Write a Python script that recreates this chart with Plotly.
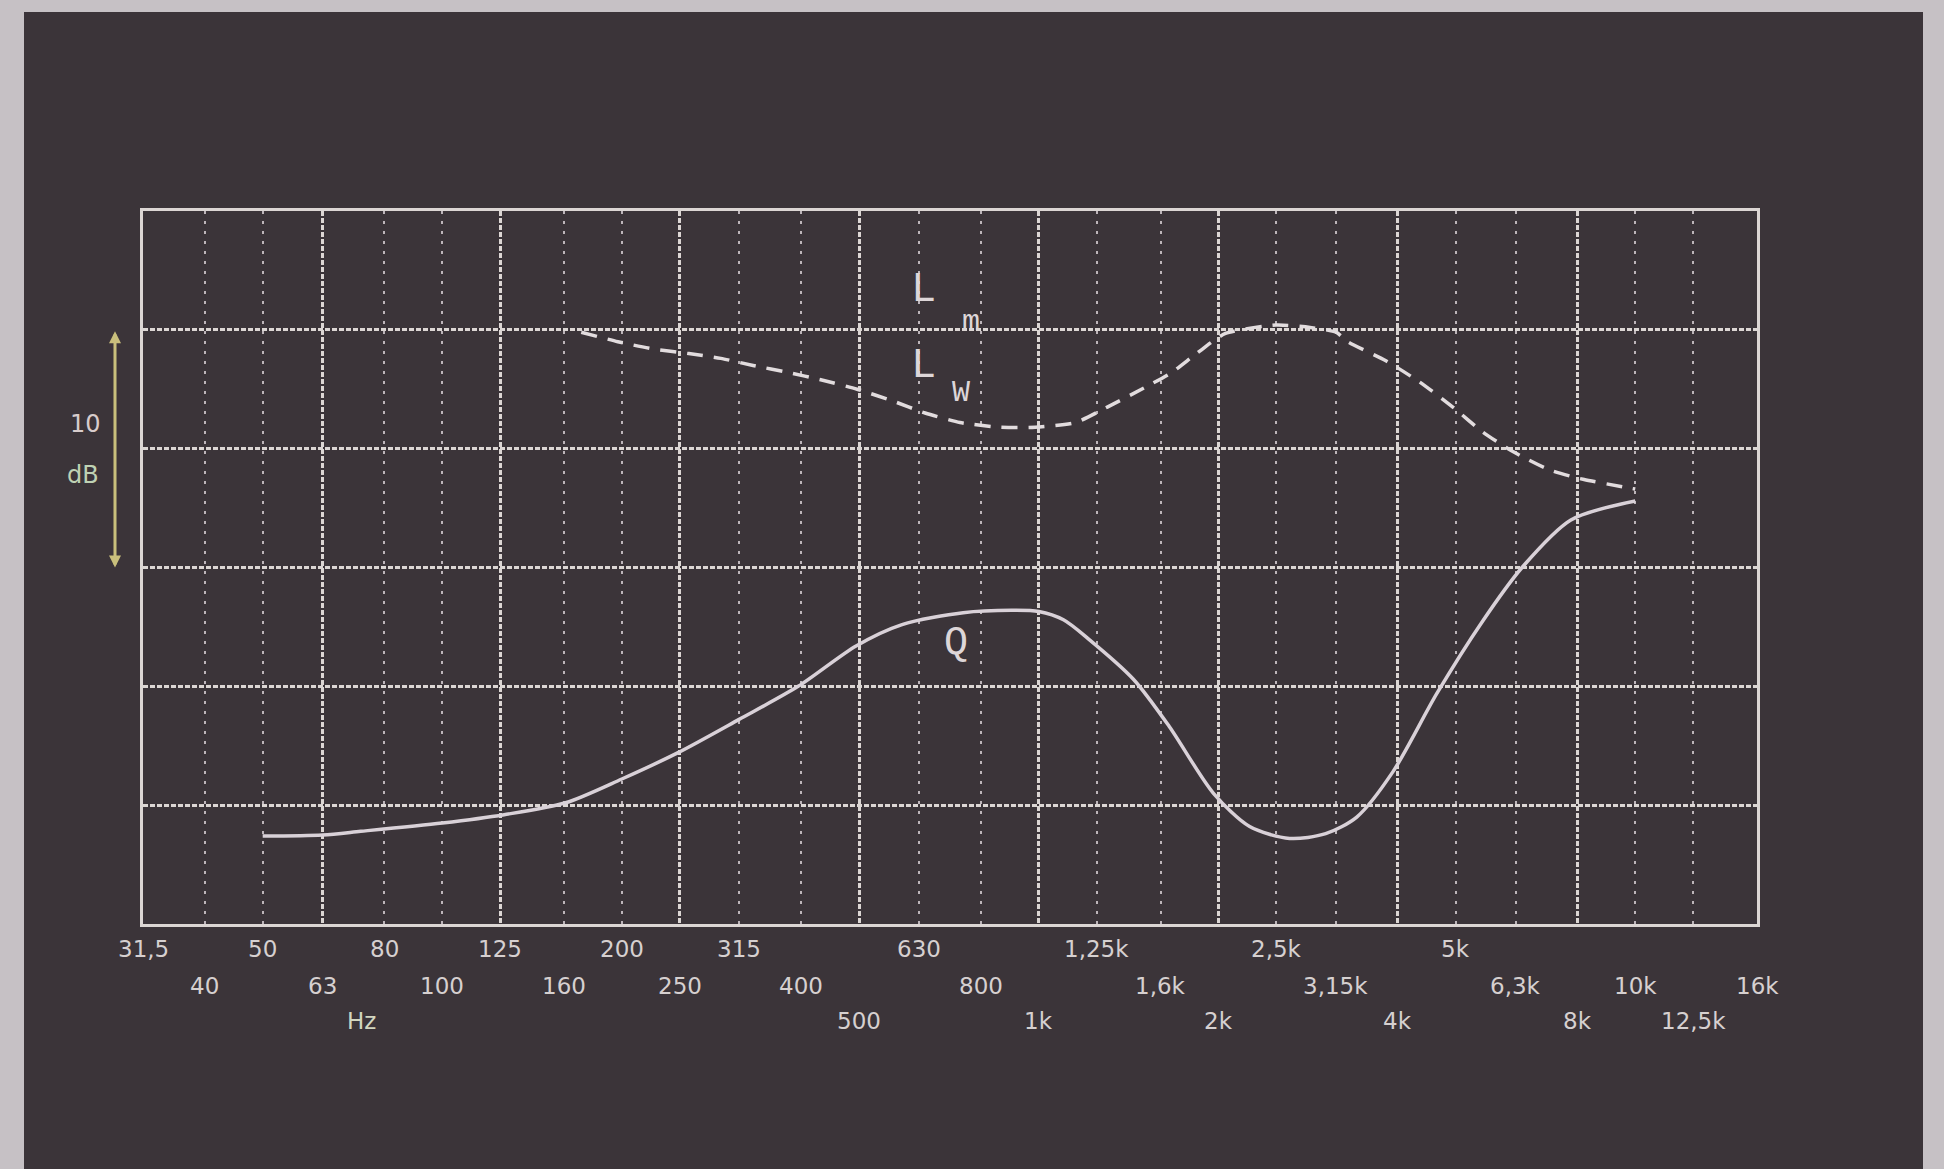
import math
import plotly.graph_objects as go

# ---- data ----
# Q curve (solid)
Q_FREQ = [50, 63, 73, 100, 127, 161, 200, 248, 314, 395, 494, 590, 747, 900, 1000,
          1100, 1211, 1441, 1656, 1963, 2257, 2634, 3027, 3413, 3923, 4650, 5533, 6460, 7800, 10000]
Q_DB = [3.7, 3.75, 3.9, 4.25, 4.6, 5.1, 6.1, 7.2, 8.6, 10.0, 11.7, 12.6, 13.1, 13.2, 13.15,
        12.8, 12.0, 10.3, 8.3, 5.5, 4.1, 3.6, 3.8, 4.5, 6.4, 9.7, 12.7, 15.0, 17.0, 17.8]

# L curve (dashed)
L_FREQ = [171, 197, 225, 259, 293, 332, 381, 431, 496, 570, 645, 738, 862, 986, 1152,
          1303, 1487, 1669, 1838, 2056, 2500, 2850, 3150, 3297, 3819, 4353, 4945, 5552,
          6213, 7195, 8209, 9507, 10000]
L_DB = [24.9, 24.5, 24.2, 24.0, 23.8, 23.5, 23.2, 22.9, 22.5, 22.0, 21.5, 21.1, 20.9, 20.9, 21.1,
        21.75, 22.5, 23.2, 24.0, 24.85, 25.2, 25.1, 24.9, 24.5, 23.7, 22.8, 21.75, 20.7,
        19.9, 19.1, 18.7, 18.4, 18.3]

# frequency axis
TICK_FREQS = [31.5, 40, 50, 63, 80, 100, 125, 160, 200, 250, 315, 400, 500, 630, 800,
              1000, 1250, 1600, 2000, 2500, 3150, 4000, 5000, 6300, 8000, 10000, 12500, 16000]
TICK_LABELS = ["31,5", "40", "50", "63", "80", "100", "125", "160", "200", "250", "315", "400",
               "500", "630", "800", "1k", "1,25k", "1,6k", "2k", "2,5k", "3,15k", "4k", "5k",
               "6,3k", "8k", "10k", "12,5k", "16k"]
TICK_ROWS = [0, 1, 0, 1, 0, 1, 0, 1, 0, 1, 0, 1, 2, 0, 1, 2, 0, 1, 2, 0, 1, 2, 0, 1, 2, 1, 2, 1]
OCTAVE_FREQS = [31.5, 63, 125, 250, 500, 1000, 2000, 4000, 8000, 16000]
DB_GRID = [0, 5, 10, 15, 20, 25, 30]

# ---- style ----
BG = "#3b3439"
BORDER = "#c6c1c5"
GRID = "#dcd6d4"
MINOR = "#bdb5ba"
TXT = "#d6d0d0"
W, H = 1944, 1169
L_M, R_M, T_M, B_M = 143, 187, 211, 245
PW, PH = W - L_M - R_M, H - T_M - B_M


def px_x(px):
    return (px - L_M) / PW


def px_y(py):
    return (H - B_M - py) / PH


fig = go.Figure()
fig.add_trace(go.Scatter(x=L_FREQ, y=L_DB, mode="lines", name="L",
                         line=dict(color="#e2dcde", width=3.5, dash="16px,11px",
                                   shape="spline", smoothing=0.6),
                         showlegend=False, hoverinfo="skip"))
fig.add_trace(go.Scatter(x=Q_FREQ, y=Q_DB, mode="lines", name="Q",
                         line=dict(color="#d9d1d8", width=3.5, shape="spline", smoothing=0.8),
                         showlegend=False, hoverinfo="skip"))

minor_vals = [f for f in TICK_FREQS if f not in OCTAVE_FREQS]

fig.update_xaxes(type="log", range=[math.log10(31.5), math.log10(16000)],
                 tickmode="array", tickvals=OCTAVE_FREQS, showticklabels=False, ticks="",
                 showgrid=True, gridcolor=GRID, gridwidth=2.5, griddash="5px,2px",
                 minor=dict(tickmode="array", tickvals=minor_vals, showgrid=True,
                            gridcolor=MINOR, gridwidth=1.8, griddash="3px,7px", ticks=""),
                 showline=True, mirror=True, linecolor=GRID, linewidth=3, zeroline=False)
fig.update_yaxes(range=[0, 30], tickmode="array", tickvals=DB_GRID, showticklabels=False,
                 ticks="", showgrid=True, gridcolor=GRID, gridwidth=2.5, griddash="5px,2px",
                 showline=True, mirror=True, linecolor=GRID, linewidth=3, zeroline=False)

annotations = []
row_y = [px_y(949), px_y(986), px_y(1021)]
for f, lab_txt, r in zip(TICK_FREQS, TICK_LABELS, TICK_ROWS):
    annotations.append(dict(x=math.log10(f), y=row_y[r], xref="x", yref="paper",
                            text=lab_txt, showarrow=False, xanchor="center", yanchor="middle",
                            font=dict(family="DejaVu Sans", size=23, color=TXT)))
annotations.append(dict(x=px_x(361), y=row_y[2], xref="paper", yref="paper", text="Hz",
                        showarrow=False, xanchor="center", yanchor="middle",
                        font=dict(family="DejaVu Sans", size=23, color="#d2d6c0")))

# 10 dB scale marker
annotations.append(dict(x=px_x(115), y=15, xref="paper", yref="y", ax=0, ay=-10 * PH / 30,
                        axref="pixel", ayref="pixel", text="", showarrow=True,
                        arrowhead=2, startarrowhead=2, arrowside="end+start",
                        arrowsize=0.8, arrowwidth=3, arrowcolor="#c9bf7c"))
annotations.append(dict(x=px_x(85), y=(H - B_M - 424) / PH * 30, xref="paper", yref="y",
                        text="10", showarrow=False, xanchor="center", yanchor="middle",
                        font=dict(family="DejaVu Sans", size=24, color="#d8cccc")))
annotations.append(dict(x=px_x(83), y=(H - B_M - 475) / PH * 30, xref="paper", yref="y",
                        text="dB", showarrow=False, xanchor="center", yanchor="middle",
                        font=dict(family="DejaVu Sans", size=24, color="#bfd2b4")))


# curve labels
def lab(px, py, text, size):
    f = 31.25 * 2 ** ((px - L_M) / (PW / 9))
    return dict(x=math.log10(f), y=(H - B_M - py) / PH * 30, xref="x", yref="y", text=text,
                showarrow=False, xanchor="center", yanchor="middle",
                font=dict(family="Liberation Mono", size=size, color="#ddd6d8"))


annotations += [lab(925, 290, "L", 42), lab(972, 322, "m", 30),
                lab(925, 366, "L", 42), lab(962, 393, "W", 30),
                lab(957, 643, "Q", 40)]

shapes = [
    dict(type="rect", xref="paper", yref="paper", x0=px_x(-10), x1=px_x(24),
         y0=px_y(H + 10), y1=px_y(-10), fillcolor=BORDER, line=dict(width=0)),
    dict(type="rect", xref="paper", yref="paper", x0=px_x(-10), x1=px_x(W + 10),
         y0=px_y(12), y1=px_y(-10), fillcolor=BORDER, line=dict(width=0)),
    dict(type="rect", xref="paper", yref="paper", x0=px_x(1923), x1=px_x(W + 10),
         y0=px_y(H + 10), y1=px_y(-10), fillcolor=BORDER, line=dict(width=0)),
]

fig.update_layout(width=W, height=H, margin=dict(l=L_M, r=R_M, t=T_M, b=B_M, pad=0),
                  paper_bgcolor=BG, plot_bgcolor=BG, showlegend=False,
                  annotations=annotations, shapes=shapes)

fig.write_html("out.html", config={"displayModeBar": False},
               post_script="document.body.style.margin='0';document.body.style.padding='0';"
                           "document.documentElement.style.overflow='hidden';")
